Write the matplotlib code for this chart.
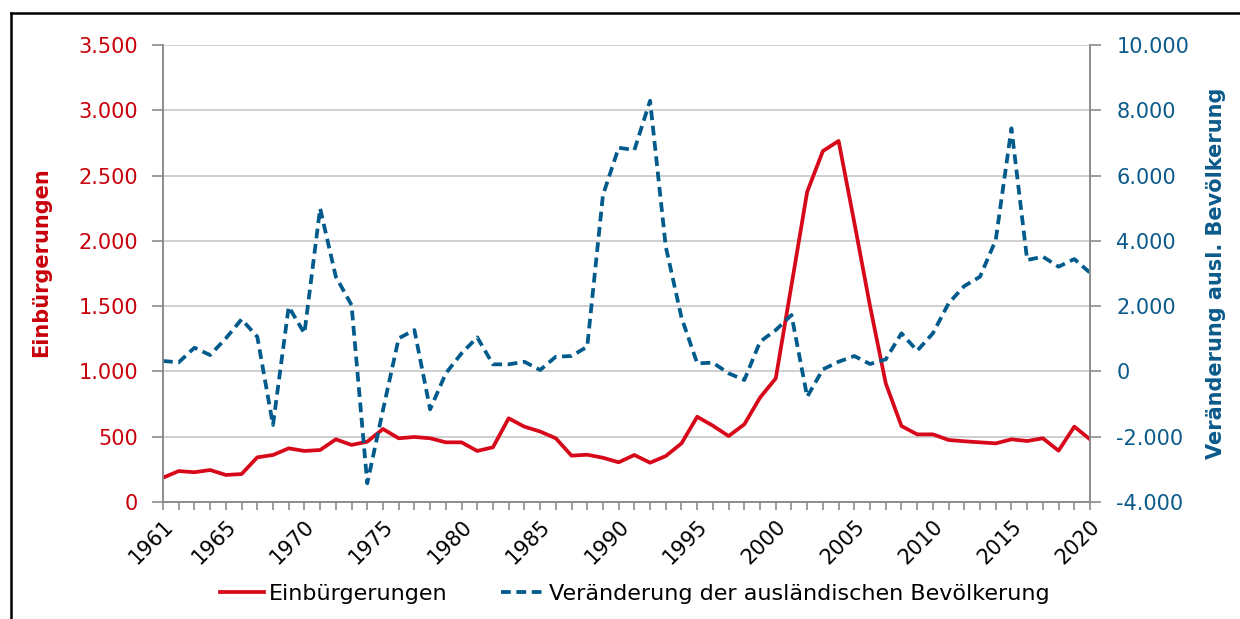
import matplotlib.pyplot as plt
from matplotlib.lines import Line2D
from matplotlib.ticker import FuncFormatter, MultipleLocator

years = list(range(1961, 2021))
einbuergerungen = [
    186, 237, 228, 245, 207, 214, 342, 360, 411, 391,
    398, 480, 437, 462, 559, 488, 498, 488, 457, 457,
    391, 419, 641, 577, 540, 488, 355, 362, 339, 304,
    360, 301, 352, 449, 653, 584, 505, 595, 800, 947,
    1660, 2376, 2688, 2765, 2140, 1500, 909, 582, 518, 518,
    475, 465, 457, 449, 480, 467, 488, 393, 577, 480,
]
veraenderung = [
    319, 279, 726, 502, 1014, 1596, 1063, -1642, 1982, 1167,
    4996, 2901, 2034, -3428, -1185, 1014, 1268, -1162, -58, 554,
    1044, 217, 217, 297, 43, 451, 472, 757, 5400, 6853,
    6782, 8293, 3820, 1650, 248, 267, -58, -263, 910, 1268,
    1728, -775, 64, 297, 472, 227, 370, 1167, 634, 1167,
    2086, 2616, 2901, 4025, 7447, 3413, 3515, 3208, 3443, 3024,
]
label_years = [1961, 1965, 1970, 1975, 1980, 1985, 1990, 1995, 2000, 2005, 2010, 2015, 2020]

red_line = "#D7081A"
red_text = "#C8000A"
blue_line = "#005A8C"
blue_text = "#0B5A8A"
spine_col = "#8C8C8C"

plt.rcParams["font.family"] = ["DejaVu Sans"]


def thousands(v, pos):
    return f"{int(v):,}".replace(",", ".")


fig = plt.figure(figsize=(12.4, 6.19), dpi=100)
ax = fig.add_axes([163 / 1240, 1 - 502 / 619, (1090 - 163) / 1240, (502 - 45) / 619])
ax2 = ax.twinx()

ax.plot(years, einbuergerungen, color=red_line, lw=2.7, label="Einbürgerungen", zorder=3)
ax2.plot(years, veraenderung, color=blue_line, lw=2.7, dashes=(2.6, 1.5),
         label="Veränderung der ausländischen Bevölkerung")

ax.set_xlim(1961, 2020)
ax.set_ylim(0, 3500)
ax2.set_ylim(-4000, 10000)
ax.yaxis.set_major_locator(MultipleLocator(500))
ax2.yaxis.set_major_locator(MultipleLocator(2000))
ax.yaxis.set_major_formatter(FuncFormatter(thousands))
ax2.yaxis.set_major_formatter(FuncFormatter(thousands))

ax.set_xticks(years)
ax.set_xticklabels([str(y) if y in label_years else "" for y in years],
                   rotation=45, ha="right", va="top", rotation_mode="anchor", fontsize=15)

ax.grid(axis="y", color="#C8C8C8", lw=1.2)
ax.set_axisbelow(True)

for a in (ax, ax2):
    for s in a.spines.values():
        s.set_color(spine_col)
        s.set_linewidth(1.2)
    a.spines["top"].set_visible(False)

ax.tick_params(axis="x", length=6, color=spine_col, width=1.2, pad=4)
ax.tick_params(axis="y", length=8, color=spine_col, width=1.2, labelsize=15,
               labelcolor=red_text, pad=10)
ax2.tick_params(axis="y", length=8, color=spine_col, width=1.2, labelsize=15,
                labelcolor=blue_text, pad=11)

ax.set_ylabel("Einbürgerungen", color=red_text, fontsize=15, fontweight="bold")
ax.yaxis.set_label_coords(-0.121, 0.525)
ax2.set_ylabel("Veränderung ausl. Bevölkerung", color=blue_text, fontsize=15,
               fontweight="bold", labelpad=12)

h1, l1 = ax.get_legend_handles_labels()
h2, l2 = ax2.get_legend_handles_labels()
fig.legend(h1 + h2, l1 + l2, loc="center", bbox_to_anchor=(0.512, 1 - 594 / 619),
           ncol=2, frameon=False, fontsize=16, handlelength=2.0, handletextpad=0.2,
           columnspacing=2.4)

# frame lines at top and left
fig.add_artist(Line2D([11 / 1240, 1], [1 - 13 / 619] * 2, color="black", lw=1.8,
                      transform=fig.transFigure))
fig.add_artist(Line2D([11 / 1240] * 2, [0, 1 - 13 / 619], color="black", lw=1.8,
                      transform=fig.transFigure))

fig.savefig("out.png", dpi=100)
